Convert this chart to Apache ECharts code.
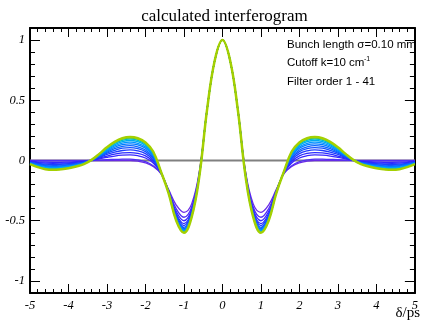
<!DOCTYPE html>
<html>
<head>
<meta charset="utf-8">
<script src="https://cdn.jsdelivr.net/npm/echarts@6/dist/echarts.min.js"></script>
<style>
html, body { margin: 0; padding: 0; background: #fff; }
#chart { width: 421px; height: 323px; }
</style>
</head>
<body>
<div id="chart"></div>
<script>
// delay positions (ps), right half only - the interferogram is symmetric
var halfX = [0, 0.2, 0.4, 0.6, 0.8, 1, 1.2, 1.4, 1.6, 1.8, 2, 2.2, 2.4, 2.6, 2.8, 3, 3.2, 3.4, 3.6, 3.8, 4, 4.2, 4.4, 4.6, 4.8, 5];

// curves, lowest filter order first
var curve01 = [1, 0.83, 0.43, -0.09, -0.36, -0.43, -0.37, -0.24, -0.11, -0.05, -0.02, -0.006, 0, 0, 0, 0, 0, 0, 0, 0, 0, 0, 0, 0, 0, 0];
var curve02 = [1, 0.83, 0.42, -0.10, -0.386, -0.471, -0.401, -0.247, -0.105, -0.043, -0.010, 0.005, 0.012, 0.011, 0.009, 0.007, 0.003, 0, -0.001, -0.0015, -0.002, -0.002, -0.002, -0.002, -0.0017, -0.001];
var curve03 = [1, 0.83, 0.42, -0.106, -0.405, -0.50, -0.423, -0.252, -0.102, -0.02, 0.021, 0.040, 0.047, 0.044, 0.037, 0.026, 0.013, 0.001, -0.006, -0.010, -0.013, -0.015, -0.015, -0.014, -0.011, -0.006];
var curve04 = [1, 0.83, 0.42, -0.112, -0.42, -0.524, -0.442, -0.257, -0.099, -0.008, 0.038, 0.059, 0.066, 0.063, 0.053, 0.037, 0.019, 0.002, -0.009, -0.015, -0.02, -0.022, -0.023, -0.022, -0.017, -0.009];
var curve05 = [1, 0.83, 0.42, -0.116, -0.432, -0.54, -0.455, -0.26, -0.097, 0.006, 0.057, 0.080, 0.088, 0.083, 0.070, 0.050, 0.025, 0.002, -0.013, -0.021, -0.027, -0.031, -0.032, -0.030, -0.023, -0.013];
var curve06 = [1, 0.83, 0.42, -0.12, -0.441, -0.556, -0.466, -0.262, -0.095, 0.019, 0.074, 0.099, 0.107, 0.102, 0.085, 0.061, 0.030, 0.003, -0.016, -0.026, -0.034, -0.038, -0.040, -0.037, -0.029, -0.016];
var curve07 = [1, 0.83, 0.42, -0.122, -0.448, -0.566, -0.474, -0.264, -0.094, 0.029, 0.087, 0.114, 0.123, 0.117, 0.098, 0.069, 0.035, 0.003, -0.018, -0.030, -0.039, -0.044, -0.046, -0.043, -0.033, -0.018];
var curve08 = [1, 0.83, 0.42, -0.124, -0.455, -0.576, -0.482, -0.266, -0.093, 0.039, 0.101, 0.130, 0.138, 0.131, 0.110, 0.078, 0.039, 0.004, -0.020, -0.034, -0.044, -0.050, -0.052, -0.049, -0.037, -0.020];
var curve09 = [1, 0.83, 0.42, -0.126, -0.459, -0.583, -0.487, -0.267, -0.092, 0.048, 0.113, 0.143, 0.152, 0.144, 0.121, 0.086, 0.043, 0.004, -0.023, -0.038, -0.049, -0.055, -0.059, -0.055, -0.042, -0.023];
var curve10 = [1, 0.83, 0.42, -0.128, -0.463, -0.59, -0.492, -0.268, -0.091, 0.056, 0.125, 0.156, 0.166, 0.157, 0.132, 0.094, 0.047, 0.004, -0.025, -0.042, -0.055, -0.061, -0.065, -0.060, -0.046, -0.025];
var curve11 = [1, 0.83, 0.42, -0.129, -0.467, -0.595, -0.496, -0.269, -0.09, 0.064, 0.135, 0.168, 0.177, 0.168, 0.141, 0.100, 0.050, 0.005, -0.027, -0.045, -0.059, -0.066, -0.069, -0.065, -0.050, -0.027];
var curve12 = [1, 0.83, 0.42, -0.13, -0.469, -0.598, -0.499, -0.27, -0.09, 0.07, 0.143, 0.177, 0.187, 0.178, 0.149, 0.106, 0.053, 0.005, -0.029, -0.048, -0.062, -0.070, -0.074, -0.069, -0.053, -0.029];
var curve13 = [1, 0.83, 0.42, -0.13, -0.47, -0.60, -0.50, -0.27, -0.09, 0.075, 0.15, 0.185, 0.195, 0.185, 0.155, 0.11, 0.055, 0.005, -0.03, -0.05, -0.065, -0.073, -0.077, -0.072, -0.055, -0.03];

var curves = [curve01, curve02, curve03, curve04, curve05, curve06, curve07, curve08, curve09, curve10, curve11, curve12, curve13];
var colors = ['#6a2ae6', '#5030f5', '#3a28ff', '#2a2aff', '#1e3cff', '#1450ff', '#0a66ff', '#007cff', '#0094ff', '#00aaf0', '#00bcd0', '#28c070', '#a4d000'];

var xRange = [-5, 5];
var yRange = [-1.1, 1.1];
var yMajor = [-1, -0.5, 0, 0.5, 1];

function mirror(ys) {
    var pts = [];
    for (var i = halfX.length - 1; i > 0; i--) pts.push([-halfX[i], ys[i]]);
    for (var j = 0; j < halfX.length; j++) pts.push([halfX[j], ys[j]]);
    return pts;
}

var labelFont = { fontFamily: 'Liberation Serif', fontStyle: 'italic', fontSize: 12.5, color: '#000' };
var black = { color: '#000', width: 1 };

function xAx(pos, labels) {
    return {
        type: 'value', position: pos, min: xRange[0], max: xRange[1], interval: 1,
        axisLine: { show: true, onZero: false, lineStyle: { color: '#000', width: 2 } },
        axisTick: { show: true, inside: true, length: 9, lineStyle: black },
        minorTick: { show: true, splitNumber: 5, length: 4, lineStyle: black },
        axisLabel: Object.assign({ show: labels, margin: 6, showMaxLabel: true, showMinLabel: true }, labelFont),
        splitLine: { show: false }
    };
}
function yMajorAx(pos, labels) {
    return {
        type: 'value', position: pos, min: yRange[0], max: yRange[1],
        axisLine: { show: true, onZero: false, lineStyle: { color: '#000', width: 2 } },
        axisTick: { show: true, inside: true, length: 10, lineStyle: black, customValues: yMajor },
        axisLabel: Object.assign({ show: labels, margin: 5, customValues: yMajor }, labelFont),
        splitLine: { show: false }
    };
}
function yMinorAx(pos) {
    return {
        type: 'value', position: pos, min: yRange[0], max: yRange[1], interval: 0.1,
        axisLine: { show: false, onZero: false },
        axisTick: { show: true, inside: true, length: 5, lineStyle: black },
        axisLabel: { show: false },
        splitLine: { show: false }
    };
}

var series = [{
    type: 'line',
    data: [[xRange[0], 0], [xRange[1], 0]],
    showSymbol: false,
    lineStyle: { color: '#808080', width: 2 },
    z: 1,
    silent: true
}];
curves.forEach(function (c, i) {
    series.push({
        type: 'line',
        data: mirror(c),
        smooth: 0.4,
        showSymbol: false,
        lineStyle: { color: colors[i], width: i === curves.length - 1 ? 2.5 : 1.3 },
        z: 2 + i,
        silent: true
    });
});

var chart = echarts.init(document.getElementById('chart'), null, { renderer: 'canvas' });
chart.setOption({
    animation: false,
    backgroundColor: '#fff',
    title: {
        text: 'calculated interferogram',
        left: 219.5, textAlign: 'center', top: 3,
        textStyle: { fontFamily: 'Liberation Serif', fontSize: 17, fontWeight: 'normal', color: '#000' }
    },
    grid: { left: 30, right: 2, top: 28, bottom: 30 },
    xAxis: [xAx('bottom', true), xAx('top', false)],
    yAxis: [yMajorAx('left', true), yMinorAx('left'), yMajorAx('right', false), yMinorAx('right')],
    series: series,
    graphic: [
        { type: 'text', left: 287, top: 38.5, style: { text: 'Bunch length \u03c3=0.10 mm', font: '11.5px "Liberation Sans"', fill: '#000' } },
        { type: 'text', left: 287, top: 57, style: { text: 'Cutoff k=10 cm', font: '11.5px "Liberation Sans"', fill: '#000' } },
        { type: 'text', left: 364, top: 56, style: { text: '-1', font: '7px "Liberation Sans"', fill: '#000' } },
        { type: 'text', left: 287, top: 75.5, style: { text: 'Filter order 1 - 41', font: '11.5px "Liberation Sans"', fill: '#000' } },
        { type: 'text', right: 1, bottom: 2, style: { text: '\u03b4/ps', font: '15px "Liberation Serif"', fill: '#000' } }
    ]
});
</script>
</body>
</html>
